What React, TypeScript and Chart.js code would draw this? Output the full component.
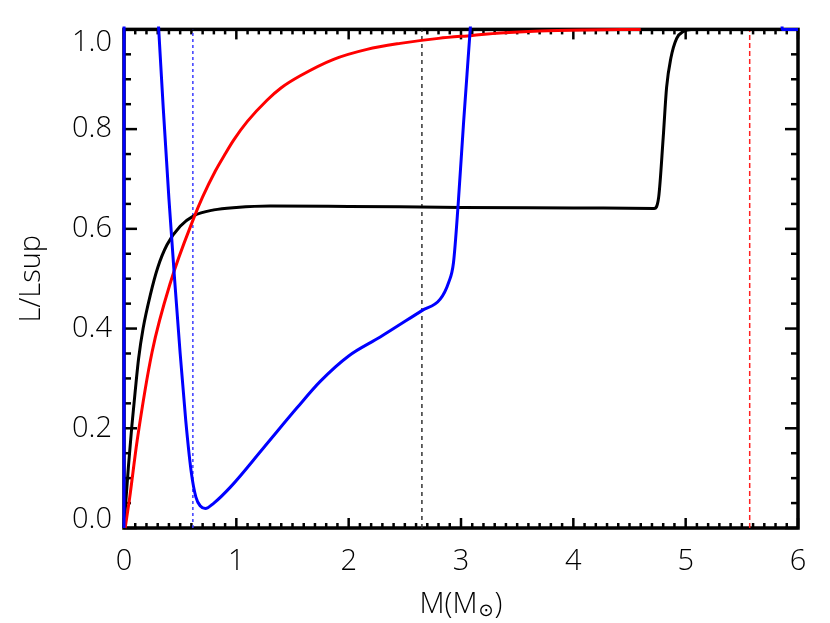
import React, { useEffect, useRef } from 'react';
import { Chart, registerables } from 'chart.js';

Chart.register(...registerables);

// ---- data ----
const blackX = [0, 0.02, 0.04, 0.07, 0.1, 0.13, 0.17, 0.235, 0.3, 0.383, 0.5, 0.62, 0.8, 1.0, 1.3, 2.0, 3.0, 4.0, 4.72, 4.76, 4.8, 4.83, 4.868, 4.92, 4.98, 5.05, 6.0];
const blackY = [0, 0.065, 0.125, 0.205, 0.275, 0.34, 0.4, 0.468, 0.522, 0.568, 0.605, 0.626, 0.638, 0.643, 0.646, 0.645, 0.643, 0.642, 0.641, 0.664, 0.783, 0.883, 0.942, 0.982, 0.996, 1.0, 1.0];

const redX = [0.01, 0.05, 0.117, 0.25, 0.413, 0.62, 0.7, 0.813, 0.9, 0.976, 1.1, 1.273, 1.4, 1.569, 1.866, 2.163, 2.459, 2.8, 3.1, 3.35, 3.7, 4.1, 4.6];
const redY = [0, 0.06, 0.175, 0.353, 0.492, 0.621, 0.664, 0.716, 0.75, 0.778, 0.816, 0.858, 0.883, 0.907, 0.94, 0.96, 0.972, 0.982, 0.988, 0.993, 0.997, 0.999, 1.0];

const blueX = [0, 0.001, 0.295, 0.309, 0.35, 0.4, 0.45, 0.5, 0.55, 0.6, 0.64, 0.68, 0.724, 0.8, 0.947, 1.243, 1.54, 1.747, 2.0, 2.281, 2.652, 2.815, 2.889, 2.933, 2.975, 3.022, 3.082, 3.1, 5.84, 5.86, 6.0];
const blueY = [0, 1.5, 1.055, 1.0, 0.84, 0.66, 0.5, 0.35, 0.215, 0.11, 0.062, 0.044, 0.039, 0.05, 0.082, 0.161, 0.241, 0.294, 0.345, 0.383, 0.436, 0.459, 0.492, 0.532, 0.65, 0.81, 1.0, 1.06, 1.3, 1.0, 1.0];

const refLineX = [0.613, 2.652, 5.57];
const refLineColor = ['#3c3cff', '#333333', '#ff2020'];
const refLineDash = [[3, 3], [4, 4], [5, 3]];

const xTicks = [0, 1, 2, 3, 4, 5, 6];
const yTicks = [0, 0.2, 0.4, 0.6, 0.8, 1.0];
const xTitleMain = 'M(M';
const xTitleSub = '⊙';
const xTitleEnd = ')';
const yTitle = 'L/Lsup';

const FONT = "'Open Sans', 'Liberation Sans', 'DejaVu Sans', sans-serif";
const WEIGHT = 300;
const FSIZE = 29;

const pts = (xs: number[], ys: number[]) => xs.map((x, i) => ({ x, y: ys[i] }));

const framePlugin = {
  id: 'idlFrame',
  beforeDraw(chart: any) {
    // keep the end labels of the y axis inside the frame
    const ys = chart.scales.y;
    const items = ys.getLabelItems(chart.chartArea);
    if (items && items.length && !(items as any)._shifted) {
      (items as any)._shifted = true;
      items.forEach((it: any) => {
        const v = Number(it.label);
        if (v === 0) it.options.translation[1] -= 8;
        if (v === 1) it.options.translation[1] += 13;
      });
    }
  },
  beforeDatasetsDraw(chart: any) {
    const { ctx, chartArea: a, scales } = chart;
    const x = scales.x;
    const y = scales.y;
    ctx.save();
    ctx.strokeStyle = '#000';
    ctx.lineCap = 'butt';
    ctx.lineWidth = 2.5;
    const seg = (x1: number, y1: number, x2: number, y2: number) => {
      ctx.beginPath();
      ctx.moveTo(x1, y1);
      ctx.lineTo(x2, y2);
      ctx.stroke();
    };
    for (let i = 0; i <= 60; i++) {
      const px = x.getPixelForValue(i / 10);
      const len = i % 10 === 0 ? 10 : 5;
      seg(px, a.bottom, px, a.bottom - len);
      seg(px, a.top, px, a.top + len);
    }
    for (let i = 0; i <= 20; i++) {
      const py = y.getPixelForValue(i / 20);
      const len = i % 4 === 0 ? 13 : 7;
      seg(a.left, py, a.left + len, py);
      seg(a.right, py, a.right - len, py);
    }
    ctx.lineWidth = 3.5;
    ctx.strokeRect(a.left, a.top, a.right - a.left, a.bottom - a.top);
    ctx.restore();
  },
  afterDraw(chart: any) {
    const { ctx, chartArea: a } = chart;
    ctx.save();
    ctx.fillStyle = '#000';
    ctx.textBaseline = 'alphabetic';
    const mainFont = `${WEIGHT} ${FSIZE}px ${FONT}`;
    const subFont = `18px 'DejaVu Sans', sans-serif`;
    ctx.font = mainFont;
    const w1 = ctx.measureText(xTitleMain).width;
    const w3 = ctx.measureText(xTitleEnd).width;
    ctx.font = subFont;
    const w2 = ctx.measureText(xTitleSub).width;
    const total = w1 + w2 + w3 + 2;
    const cx = (a.left + a.right) / 2;
    let sx = cx - total / 2;
    const base = 613;
    ctx.textAlign = 'left';
    ctx.font = mainFont;
    ctx.fillText(xTitleMain, sx, base);
    sx += w1 + 1;
    ctx.font = subFont;
    ctx.fillText(xTitleSub, sx, base + 3);
    sx += w2 + 1;
    ctx.font = mainFont;
    ctx.fillText(xTitleEnd, sx, base);
    ctx.restore();
  },
};

export default function App() {
  const ref = useRef<HTMLCanvasElement | null>(null);
  useEffect(() => {
    document.body.style.margin = '0';
    const canvas = ref.current;
    if (!canvas) return;
    const curve = (data: any, color: string, order: number) => ({
      data,
      borderColor: color,
      borderWidth: 3,
      pointRadius: 0,
      fill: false,
      cubicInterpolationMode: 'monotone',
      clip: { left: 3, top: 3, right: 3, bottom: 3 },
      order,
    });
    const refSets = refLineX.map((v, i) => ({
      data: [{ x: v, y: 0 }, { x: v, y: 1 }],
      borderColor: refLineColor[i],
      borderWidth: 1.5,
      borderDash: refLineDash[i],
      pointRadius: 0,
      fill: false,
      order: 10,
    }));
    const tickFont = { family: FONT, size: FSIZE, weight: WEIGHT };
    const chart = new Chart(canvas, {
      type: 'line',
      data: {
        datasets: [
          curve(pts(blueX, blueY), '#0000ff', 1),
          curve(pts(redX, redY), '#ff0000', 2),
          curve(pts(blackX, blackY), '#000000', 3),
          ...refSets,
        ] as any,
      },
      options: {
        animation: false,
        responsive: false,
        layout: { padding: { left: 0, top: 24, right: 32, bottom: 0 } },
        plugins: { legend: { display: false }, tooltip: { enabled: false } },
        scales: {
          x: {
            type: 'linear',
            min: 0,
            max: 6,
            afterBuildTicks: (s: any) => { s.ticks = xTicks.map((v) => ({ value: v })); },
            ticks: { color: '#000', font: tickFont, padding: 16, maxRotation: 0, callback: (v: any) => String(v) },
            grid: { display: false, drawTicks: false },
            border: { display: false },
            afterFit: (s: any) => { s.height = 95; },
          },
          y: {
            type: 'linear',
            min: 0,
            max: 1,
            afterBuildTicks: (s: any) => { s.ticks = yTicks.map((v) => ({ value: v })); },
            ticks: { color: '#000', font: tickFont, padding: 12, callback: (v: any) => Number(v).toFixed(1) },
            grid: { display: false, drawTicks: false },
            border: { display: false },
            title: { display: true, text: yTitle, color: '#000', font: tickFont, padding: { top: 14, bottom: 0 } },
            afterFit: (s: any) => { s.width = 124; },
          },
        },
      } as any,
      plugins: [framePlugin],
    });
    return () => chart.destroy();
  }, []);
  return (
    <div style={{ width: 830, height: 623 }}>
      <canvas ref={ref} width={830} height={623} />
    </div>
  );
}
